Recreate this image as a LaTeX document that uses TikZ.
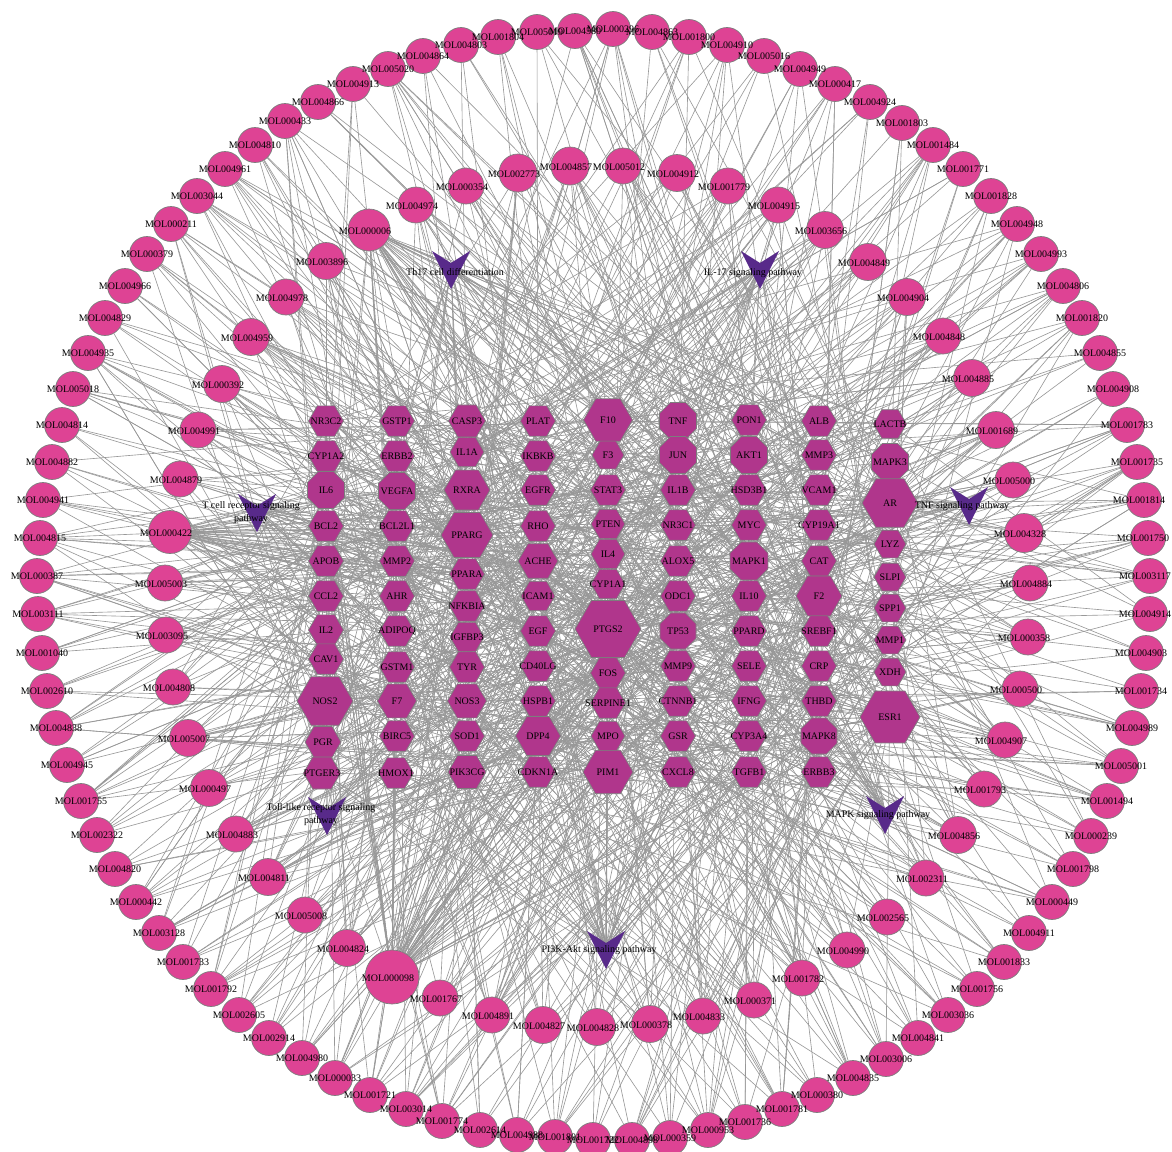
\documentclass[tikz,border=0pt]{standalone}
\usepackage{fontspec}
\setmainfont{Liberation Serif}
\usetikzlibrary{shapes.geometric}
\pgfdeclarelayer{back}
\pgfdeclarelayer{bg}
\pgfdeclarelayer{fg}
\pgfsetlayers{back,bg,main,fg}
\definecolor{molfill}{RGB}{222,67,148}
\definecolor{hexfill}{RGB}{176,54,140}
\definecolor{pathfill}{RGB}{88,42,138}
\definecolor{edgecol}{RGB}{152,152,152}
\definecolor{nodeborder}{RGB}{125,125,125}
\tikzset{
  mol/.style={circle, draw=nodeborder, line width=0.7pt, fill=molfill, inner sep=0pt, minimum size=#1},
  mol/.default=35pt,
  tgt/.style={regular polygon, draw=nodeborder, line width=0.7pt, fill=hexfill, inner sep=0pt},
  mlab/.style={font=\fontsize{10}{12}\selectfont, inner sep=0pt, text=black},
  plab/.style={font=\fontsize{10}{13}\selectfont, inner sep=0pt, align=center, text=black},
  conn/.style={draw=edgecol, line width=0.62pt},
  vshape/.style={fill=pathfill},
}
\def\targetlist{
1/326/421/6/35/NR3C2, 2/326/456/6/35/CYP1A2, 3/326/490/8/40/IL6, 4/326/526/6/35/BCL2, 5/326/561/6/35/APOB, 6/326/596/6/35/CCL2, 7/326/630/6/35/IL2, 8/326/659/6/35/CAV1, 9/325/701/6/56/NOS2, 10/323/742/6/36/PGR, 11/322/773/6/37/PTGER3,
12/397/421/6/35/GSTP1, 13/397/456/6/35/ERBB2, 14/397/491/8/40/VEGFA, 15/397/526/6/35/BCL2L1, 16/397/561/6/35/MMP2, 17/397/596/6/35/AHR, 18/397/631/6/35/ADIPOQ, 19/397/667/6/35/GSTM1, 20/397/701/6/39/F7, 21/397/736/6/35/BIRC5, 22/396/773/6/35/HMOX1,
23/467/421/6/37/CASP3, 24/467/452/6/34/IL1A, 25/467/490/6/46/RXRA, 26/467/535/6/52/PPARG, 27/467/574/6/35/PPARA, 28/467/606/6/35/NFKBIA, 29/467/637/6/34/IGFBP3, 30/467/667/6/35/TYR, 31/467/701/6/39/NOS3, 32/467/736/6/35/SOD1, 33/467/772/6/38/PIK3CG,
34/538/421/6/35/PLAT, 35/538/456/6/35/IKBKB, 36/538/490/6/35/EGFR, 37/538/526/6/35/RHO, 38/538/561/6/40/ACHE, 39/538/596/6/34/ICAM1, 40/538/631/6/35/EGF, 41/538/666/6/35/CD40LG, 42/538/701/6/35/HSPB1, 43/538/736/6/45/DPP4, 44/538/772/6/35/CDKN1A,
45/608/420/6/49/F10, 46/608/455/6/32/F3, 47/608/490/6/35/STAT3, 48/608/524/6/34/PTEN, 49/608/554/6/34/IL4, 50/608/584/6/34/CYP1A1, 51/608/629/6/66/PTGS2, 52/608/673/6/35/FOS, 53/608/703/6/35/SERPINE1, 54/608/736/6/34/MPO, 55/608/772/6/50/PIM1,
56/678/421/8/40/TNF, 57/678/455/8/40/JUN, 58/678/490/6/35/IL1B, 59/678/525/6/35/NR3C1, 60/678/561/6/35/ALOX5, 61/678/596/6/35/ODC1, 62/678/631/8/39/TP53, 63/678/666/6/35/MMP9, 64/678/701/6/35/CTNNB1, 65/678/736/6/35/GSR, 66/678/772/6/35/CXCL8,
67/749/420/6/35/PON1, 68/749/455/8/40/AKT1, 69/749/490/6/35/HSD3B1, 70/749/525/6/35/MYC, 71/749/561/8/41/MAPK1, 72/749/596/6/35/IL10, 73/749/631/6/35/PPARD, 74/749/666/6/35/SELE, 75/749/701/6/35/IFNG, 76/749/736/6/35/CYP3A4, 77/749/772/6/35/TGFB1,
78/819/421/6/35/ALB, 79/819/455/6/35/MMP3, 80/819/490/6/35/VCAM1, 81/819/525/6/35/CYP19A1, 82/819/561/6/35/CAT, 83/819/596/6/46/F2, 84/819/631/6/35/SREBF1, 85/819/666/6/35/CRP, 86/819/701/6/35/THBD, 87/819/736/8/39/MAPK8, 88/819/772/6/35/ERBB3,
89/890/424/6/33/LACTB, 90/890/462/8/40/MAPK3, 91/890/503/6/56/AR, 92/890/544/6/32/LYZ, 93/890/577/6/32/SLPI, 94/890/608/6/32/SPP1, 95/890/640/6/32/MMP1, 96/890/672/6/32/XDH, 97/890/717/6/60/ESR1}
\def\outerlist{
1/461/45/MOL004803, 2/498/37/MOL001804, 3/537/32/MOL005019, 4/575/31/MOL004580, 5/613/29/MOL000296, 6/652/32/MOL004863, 7/689/37/MOL001800, 8/727/45/MOL004910, 9/764/56/MOL005016, 10/800/69/MOL004949,
11/835/84/MOL000417, 12/870/102/MOL004924, 13/902/123/MOL001803, 14/933/145/MOL001484, 15/963/169/MOL001771, 16/991/196/MOL001828, 17/1017/224/MOL004948, 18/1041/254/MOL004993, 19/1063/286/MOL004806, 20/1082/318/MOL001820,
21/1100/353/MOL004855, 22/1113/389/MOL004908, 23/1127/425/MOL001783, 24/1137/462/MOL001735, 25/1144/500/MOL001814, 26/1148/538/MOL001750, 27/1150/576/MOL003117, 28/1150/614/MOL004914, 29/1146/653/MOL004903, 30/1141/691/MOL001734,
31/1132/728/MOL004989, 32/1121/766/MOL005001, 33/1107/801/MOL001494, 34/1091/836/MOL000239, 35/1073/869/MOL001798, 36/1052/902/MOL000449, 37/1029/933/MOL004911, 38/1004/962/MOL001833, 39/977/989/MOL001756, 40/948/1015/MOL003036,
41/918/1038/MOL004841, 42/886/1059/MOL003006, 43/853/1078/MOL004835, 44/817/1095/MOL000380, 45/782/1109/MOL001781, 46/745/1122/MOL001736, 47/708/1130/MOL000953, 48/670/1138/MOL000359, 49/632/1140/MOL004898, 50/593/1140/MOL001722,
51/555/1137/MOL001801, 52/517/1135/MOL004988, 53/480/1130/MOL002614, 54/442/1121/MOL001774, 55/406/1109/MOL003014, 56/370/1095/MOL001721, 57/335/1078/MOL000033, 58/302/1058/MOL004980, 59/269/1038/MOL002914, 60/239/1015/MOL002605,
61/211/989/MOL001792, 62/183/962/MOL001733, 63/159/933/MOL003128, 64/136/902/MOL000442, 65/115/869/MOL004820, 66/97/835/MOL002322, 67/81/801/MOL001755, 68/67/765/MOL004945, 69/56/728/MOL004838, 70/47/691/MOL002610,
71/42/653/MOL001040, 72/38/614/MOL003111, 73/37/576/MOL000387, 74/40/538/MOL004815, 75/43/500/MOL004941, 76/52/462/MOL004882, 77/62/425/MOL004814, 78/73/389/MOL005018, 79/88/353/MOL004935, 80/105/318/MOL004829,
81/125/286/MOL004966, 82/147/254/MOL000379, 83/171/224/MOL000211, 84/197/196/MOL003044, 85/225/169/MOL004961, 86/255/145/MOL004810, 87/285/121/MOL000433, 88/318/102/MOL004866, 89/353/84/MOL004913, 90/388/69/MOL005020,
91/423/56/MOL004864}
\def\innerlist{
92/466/186/36/MOL000354, 93/518/173/38/MOL002773, 94/570/166/38/MOL004857, 95/623/166/36/MOL005012, 96/677/173/37/MOL004912, 97/728/186/36/MOL001779, 98/778/205/36/MOL004915, 99/825/230/37/MOL003656, 100/868/262/37/MOL004849,
101/907/297/37/MOL004904, 102/943/336/36/MOL004848, 103/972/378/37/MOL004885, 104/996/430/37/MOL001689, 105/1013/480/36/MOL005000, 106/1024/533/39/MOL004328, 107/1030/583/36/MOL004884, 108/1028/637/36/MOL000358, 109/1020/689/36/MOL000500,
110/1005/740/36/MOL004907, 111/984/789/36/MOL001793, 112/958/835/37/MOL004856, 113/926/878/36/MOL002311, 114/887/917/36/MOL002565, 115/847/950/36/MOL004990, 116/802/978/36/MOL001782, 117/754/1000/36/MOL000371, 118/703/1016/36/MOL004833,
119/650/1024/37/MOL000378, 120/597/1027/37/MOL004828, 121/543/1025/37/MOL004827, 122/492/1015/36/MOL004891, 123/440/998/36/MOL001767, 124/392/977/54/MOL000098, 125/347/948/37/MOL004824, 126/305/915/36/MOL005008, 127/268/877/37/MOL004811,
128/236/834/36/MOL004883, 129/209/788/37/MOL000497, 130/188/738/37/MOL005007, 131/173/687/36/MOL004808, 132/166/635/36/MOL003095, 133/165/583/36/MOL005003, 134/170/532/43/MOL000422, 135/180/479/36/MOL004879, 136/198/430/36/MOL004991,
137/222/384/37/MOL000392, 138/251/337/37/MOL004959, 139/286/297/36/MOL004978, 140/326/261/37/MOL003896, 141/369/230/42/MOL000006, 142/416/205/36/MOL004974}
\def\pathlist{
1/451/267/455/272/{Th17 cell differentiation},
2/760/267/753/273/{IL-17 signaling pathway},
3/257/510/251/513/{T cell receptor signaling\\pathway},
4/969/503/962/506/{TNF signaling pathway},
5/327/813/321/815/{Toll-like receptor signaling\\pathway},
6/885/812/878/815/{MAPK signaling pathway},
7/606/947/599/950/{PI3K-Akt signaling pathway}}
\def\bigpool{{51,51,51,9,9,97,97,91,91,26,26,45,45,55,55,25,83,3,43,38,14,56,57,68,71,20,31,33}}
\begin{document}
\begin{tikzpicture}[x=1pt,y=-1pt]
\begin{pgfonlayer}{back}
\fill[white] (0,0) rectangle (1172,1151);
\end{pgfonlayer}
\useasboundingbox (0,0) rectangle (1172,1151);

% ---------- nodes ----------
\foreach \i/\x/\y/\n/\s/\lab in \targetlist{
  \node[tgt, regular polygon sides=\n, minimum size=\s pt] (t\i) at (\x,\y) {};
}
\foreach \i/\x/\y/\lab in \outerlist{
  \node[mol] (m\i) at (\x,\y) {};
}
\foreach \i/\x/\y/\s/\lab in \innerlist{
  \node[mol=\s pt] (m\i) at (\x,\y) {};
}
\foreach \i/\x/\y/\lx/\ly/\lab in \pathlist{
  \coordinate (p\i) at (\x,\y);
  \fill[vshape] (\x-19,\y-16) -- (\x,\y-4) -- (\x+19,\y-16) -- (\x,\y+22) -- cycle;
}

% ---------- labels ----------
\begin{pgfonlayer}{fg}
\foreach \i/\x/\y/\n/\s/\lab in \targetlist{
  \node[mlab] (t\i-l) at (\x,\y) {\lab};
}
\foreach \i/\x/\y/\lab in \outerlist{
  \ifnum\x>1143
    \node[mlab] (m\i-l) at (\x-5,\y) {\lab};
  \else
    \node[mlab] (m\i-l) at (\x,\y) {\lab};
  \fi
}
\foreach \i/\x/\y/\s/\lab in \innerlist{
  \node[mlab] (m\i-l) at (\x-4,\y+1) {\lab};
}
\foreach \i/\x/\y/\lx/\ly/\lab in \pathlist{
  \node[plab] (p\i-l) at (\lx,\ly) {\lab};
}
\end{pgfonlayer}

% ---------- connectors ----------
\begin{pgfonlayer}{bg}
\pgfmathsetseed{2718}
\foreach \i in {1,...,91}{
  \pgfmathrandominteger{\d}{4}{9}
  \foreach \k in {1,...,\d}{
    \pgfmathrandominteger{\r}{1}{125}
    \ifnum\r>97
      \pgfmathtruncatemacro{\idx}{\r-98}
      \pgfmathtruncatemacro{\r}{\bigpool[\idx]}
    \fi
    \draw[conn] (m\i) -- (t\r);
  }
}
\foreach \i in {92,...,142}{
  \pgfmathrandominteger{\d}{5}{12}
  \foreach \k in {1,...,\d}{
    \pgfmathrandominteger{\r}{1}{125}
    \ifnum\r>97
      \pgfmathtruncatemacro{\idx}{\r-98}
      \pgfmathtruncatemacro{\r}{\bigpool[\idx]}
    \fi
    \draw[conn] (m\i) -- (t\r);
  }
}
\foreach \i/\d in {124/62,141/28,134/32}{
  \foreach \k in {1,...,\d}{
    \pgfmathrandominteger{\r}{1}{97}
    \draw[conn] (m\i) -- (t\r);
  }
}
\foreach \i/\d in {1/20,2/24,3/22,4/22,5/20,6/22,7/38}{
  \foreach \k in {1,...,\d}{
    \pgfmathrandominteger{\r}{1}{97}
    \draw[conn] (p\i) -- (t\r);
  }
}
\end{pgfonlayer}
\end{tikzpicture}
\end{document}
